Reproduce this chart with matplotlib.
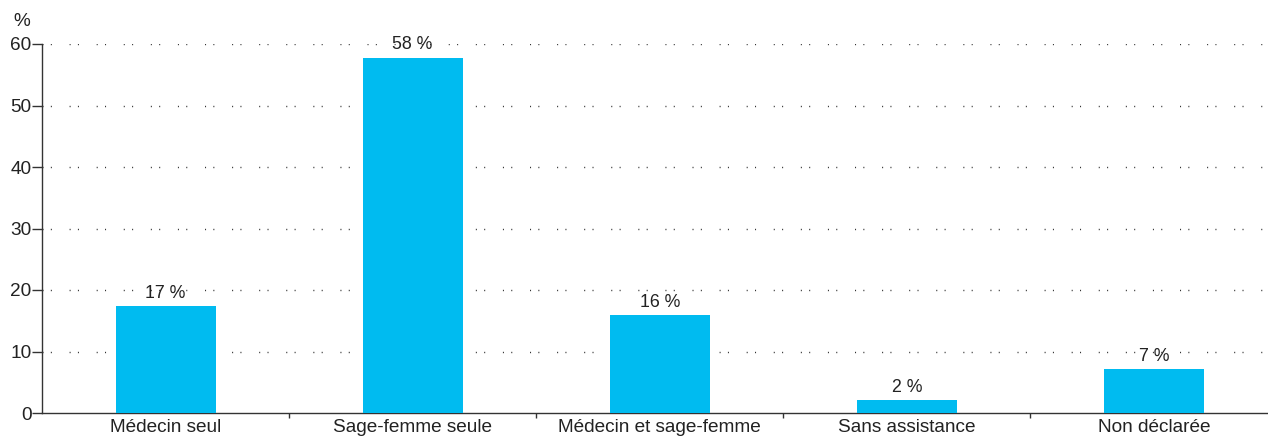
import matplotlib
matplotlib.use("Agg")
import matplotlib.pyplot as plt
import numpy as np

categories = ["Médecin seul", "Sage-femme seule", "Médecin et sage-femme", "Sans assistance", "Non déclarée"]
values = [17.4, 57.8, 15.9, 2.1, 7.2]
value_labels = ["17 %", "58 %", "16 %", "2 %", "7 %"]
yticks = [0, 10, 20, 30, 40, 50, 60]

plt.rcParams['font.family'] = ['Liberation Sans', 'DejaVu Sans']

W, H = 1268, 438
fig = plt.figure(figsize=(W / 100, H / 100), dpi=100)
left, right, top, bottom = 42, 1268, 44, 413
ax = fig.add_axes([left / W, 1 - bottom / H, (right - left) / W, (bottom - top) / H])

x = np.arange(len(categories))
color = "#00BBF0"
ax.bar(x, values, width=0.405, color=color, zorder=3)

for xi, v, lab in zip(x, values, value_labels):
    ax.annotate(lab, (xi, v), xytext=(0, 3), textcoords="offset points",
                ha="center", va="bottom", fontsize=12.8, color="#222222", zorder=4)

ax.set_ylim(0, 60)
ax.set_xlim(-0.5, 4.5 - 9.5 / 247)
ax.set_yticks(yticks)
ax.set_yticklabels([str(t) for t in yticks], fontsize=13.7, color="#222222")
ax.set_xticks(x)
ax.set_xticklabels(categories, fontsize=13.7, color="#222222")
ax.set_xticks(x[:-1] + 0.5, minor=True)

ax.tick_params(axis="y", direction="out", length=7, width=1, color="#333333", pad=0.5)
ax.tick_params(axis="x", which="major", length=0, pad=4)
ax.tick_params(axis="x", which="minor", direction="out", length=3.5, width=1, color="#333333")

for s in ["top", "right"]:
    ax.spines[s].set_visible(False)
for s in ["left", "bottom"]:
    ax.spines[s].set_color("#333333")
    ax.spines[s].set_linewidth(1.0)

for t in yticks[1:]:
    ax.axhline(t, color="#333333", linewidth=1.0, linestyle=(0, (0.75, 5.25, 0.75, 12.75)), zorder=1)

fig.text(22 / W, 1 - 22 / H, "%", ha="center", va="center", fontsize=13.7, color="#222222")

fig.savefig("out.png", dpi=100)
